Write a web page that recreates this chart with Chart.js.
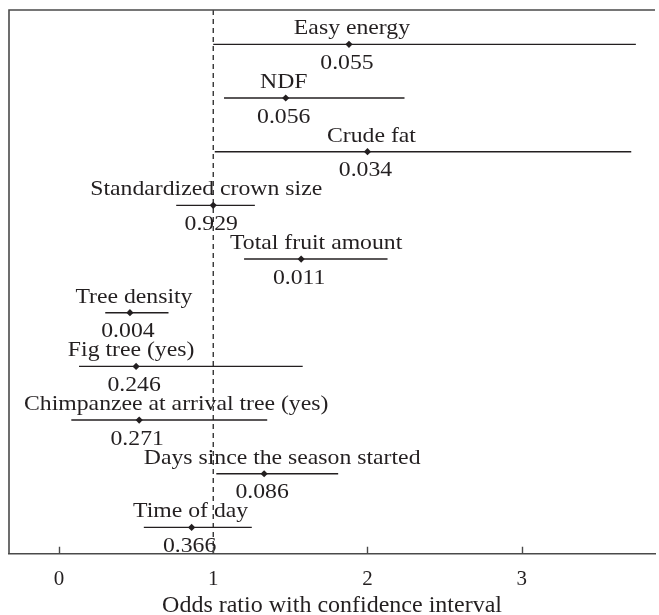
<!DOCTYPE html>
<html>
<head>
<meta charset="utf-8">
<script src="https://cdn.jsdelivr.net/npm/chart.js@4/dist/chart.umd.min.js"></script>
<style>
  html, body { margin: 0; padding: 0; background: #ffffff; }
  #c { display: block; }
</style>
</head>
<body>
<canvas id="c" width="659" height="615"></canvas>
<script>
// Predictors of arrival-tree choice, top to bottom
const predictors = [
  'Easy energy',
  'NDF',
  'Crude fat',
  'Standardized crown size',
  'Total fruit amount',
  'Tree density',
  'Fig tree (yes)',
  'Chimpanzee at arrival tree (yes)',
  'Days since the season started',
  'Time of day'
];
const oddsRatio = [1.88, 1.47, 2.00, 1.00, 1.57, 0.46, 0.50, 0.52, 1.33, 0.86];
const ciLower   = [1.00, 1.07, 1.01, 0.76, 1.20, 0.30, 0.13, 0.08, 1.02, 0.55];
const ciUpper   = [3.74, 2.24, 3.71, 1.27, 2.13, 0.71, 1.58, 1.35, 1.81, 1.25];
const pValues   = ['0.055', '0.056', '0.034', '0.929', '0.011', '0.004', '0.246', '0.271', '0.086', '0.366'];
const xTicks    = [0, 1, 2, 3];
const referenceOdds = 1;

// horizontal nudges (px) for a few predictor names
const nameNudge = [3, -2, 4, -7, 15, 4, -5, 37, 18, -1];

const FONT = '"Liberation Serif", "Times New Roman", serif';
const INK = '#231f20';
const Y_MIN = -0.64, Y_MAX = 9.49;
const STRETCH = 1.13;   // widen the narrow serif a little

const datasets = [];
predictors.forEach((name, i) => {
  datasets.push({
    type: 'line',
    data: [{ x: ciLower[i], y: i }, { x: ciUpper[i], y: i }],
    borderColor: INK,
    borderWidth: 1.4,
    pointRadius: 0,
    fill: false
  });
});
datasets.push({
  type: 'scatter',
  data: oddsRatio.map((v, i) => ({ x: v, y: i })),
  pointStyle: 'rectRot',
  pointRadius: 3.6,
  backgroundColor: INK,
  borderWidth: 0
});
// vertical reference at odds ratio 1
datasets.push({
  type: 'line',
  data: [{ x: referenceOdds, y: Y_MIN }, { x: referenceOdds, y: Y_MAX }],
  borderColor: '#111',
  borderWidth: 1.2,
  borderDash: [5, 4],
  pointRadius: 0,
  fill: false
});

function stretchedText(ctx, text, cx, by) {
  ctx.save();
  ctx.translate(cx, by);
  ctx.scale(STRETCH, 1);
  ctx.fillText(text, 0, 0);
  ctx.restore();
}

const forestLabels = {
  id: 'forestLabels',
  afterDatasetsDraw(chart) {
    const { ctx, chartArea, scales: { x, y } } = chart;
    ctx.save();
    ctx.fillStyle = INK;
    ctx.font = '21px ' + FONT;
    ctx.textAlign = 'center';
    ctx.textBaseline = 'alphabetic';
    predictors.forEach((name, i) => {
      const px = x.getPixelForValue(oddsRatio[i]);
      const py = y.getPixelForValue(i);
      let nx = px + nameNudge[i];
      const w = ctx.measureText(name).width * STRETCH;
      nx = Math.max(nx, chartArea.left + 11 + w / 2);
      stretchedText(ctx, name, nx, py - 10);
      stretchedText(ctx, pValues[i], px - 2, py + 24.5);
    });
    ctx.restore();

    // frame: left and top edges
    ctx.save();
    ctx.strokeStyle = '#4a4a4a';
    ctx.lineWidth = 1.6;
    ctx.beginPath();
    ctx.moveTo(chartArea.left, chartArea.bottom);
    ctx.lineTo(chartArea.left, chartArea.top);
    ctx.lineTo(chartArea.right, chartArea.top);
    ctx.stroke();
    // inward tick marks
    ctx.lineWidth = 1.4;
    ctx.beginPath();
    xTicks.forEach(t => {
      const tx = Math.round(x.getPixelForValue(t)) + 0.5;
      ctx.moveTo(tx, chartArea.bottom);
      ctx.lineTo(tx, chartArea.bottom - 7);
    });
    ctx.stroke();
    ctx.restore();
  }
};

new Chart(document.getElementById('c'), {
  data: { datasets },
  options: {
    responsive: false,
    devicePixelRatio: 1,
    animation: false,
    layout: { padding: { left: 9, top: 10, right: 0, bottom: 0 } },
    plugins: { legend: { display: false }, tooltip: { enabled: false } },
    scales: {
      x: {
        type: 'linear',
        min: -0.324,
        max: 3.864,
        afterBuildTicks: (scale) => { scale.ticks = xTicks.map(v => ({ value: v })); },
        afterFit: (scale) => { scale.height = 61.3; },
        grid: { display: false },
        border: { display: true, color: '#4a4a4a', width: 1.6 },
        ticks: {
          color: INK,
          padding: 5,
          font: { family: FONT, size: 21 },
          callback: (v) => String(v)
        },
        title: {
          display: true,
          text: 'Odds ratio with confidence interval',
          color: INK,
          font: { family: FONT, size: 24, lineHeight: 1 },
          padding: { top: 0, bottom: -3 }
        }
      },
      y: {
        type: 'linear',
        display: false,
        reverse: true,
        min: Y_MIN,
        max: Y_MAX
      }
    }
  },
  plugins: [forestLabels]
});
</script>
</body>
</html>
